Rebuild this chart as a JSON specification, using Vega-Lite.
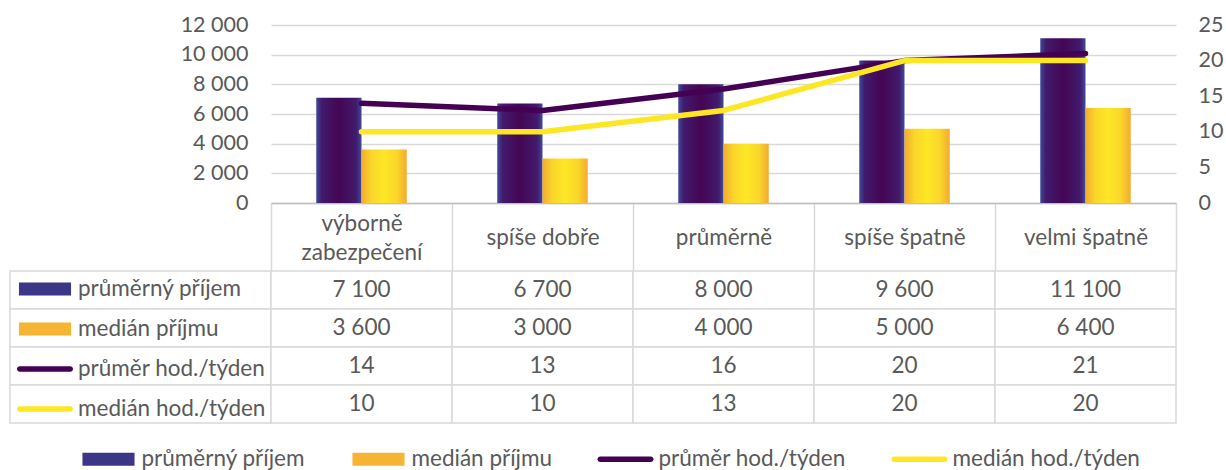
{
  "$schema": "https://vega.github.io/schema/vega-lite/v6.json",
  "background": "white",
  "padding": {"left": 9, "top": 14, "right": 2, "bottom": 2},
  "config": {
    "font": "Lato",
    "view": {"stroke": null},
    "locale": {"number": {"decimal": ",", "thousands": " ", "grouping": [3], "currency": ["", " Kč"]}},
    "axis": {"labelFont": "Lato", "labelFontSize": 21.5, "labelColor": "#595959", "title": null},
    "legend": {"labelFont": "Lato", "labelFontSize": 22.5, "labelColor": "#595959"}
  },
  "datasets": {
    "d": [
      {"kategorie": "výborně zabezpečení", "ukazatel": "průměrný příjem", "hodnota": 7100},
      {"kategorie": "spíše dobře", "ukazatel": "průměrný příjem", "hodnota": 6700},
      {"kategorie": "průměrně", "ukazatel": "průměrný příjem", "hodnota": 8000},
      {"kategorie": "spíše špatně", "ukazatel": "průměrný příjem", "hodnota": 9600},
      {"kategorie": "velmi špatně", "ukazatel": "průměrný příjem", "hodnota": 11100},
      {"kategorie": "výborně zabezpečení", "ukazatel": "medián příjmu", "hodnota": 3600},
      {"kategorie": "spíše dobře", "ukazatel": "medián příjmu", "hodnota": 3000},
      {"kategorie": "průměrně", "ukazatel": "medián příjmu", "hodnota": 4000},
      {"kategorie": "spíše špatně", "ukazatel": "medián příjmu", "hodnota": 5000},
      {"kategorie": "velmi špatně", "ukazatel": "medián příjmu", "hodnota": 6400},
      {"kategorie": "výborně zabezpečení", "ukazatel": "průměr hod./týden", "hodnota": 14},
      {"kategorie": "spíše dobře", "ukazatel": "průměr hod./týden", "hodnota": 13},
      {"kategorie": "průměrně", "ukazatel": "průměr hod./týden", "hodnota": 16},
      {"kategorie": "spíše špatně", "ukazatel": "průměr hod./týden", "hodnota": 20},
      {"kategorie": "velmi špatně", "ukazatel": "průměr hod./týden", "hodnota": 21},
      {"kategorie": "výborně zabezpečení", "ukazatel": "medián hod./týden", "hodnota": 10},
      {"kategorie": "spíše dobře", "ukazatel": "medián hod./týden", "hodnota": 10},
      {"kategorie": "průměrně", "ukazatel": "medián hod./týden", "hodnota": 13},
      {"kategorie": "spíše špatně", "ukazatel": "medián hod./týden", "hodnota": 20},
      {"kategorie": "velmi špatně", "ukazatel": "medián hod./týden", "hodnota": 20}
    ]
  },
  "data": {"name": "d"},
  "columns": 2,
  "spacing": {"row": 68, "column": 0},
  "bounds": "flush",
  "concat": [
    {
      "width": 261,
      "height": 178,
      "mark": {"type": "text"},
      "encoding": {"text": {"value": ""}}
    },
    {
      "width": 905,
      "height": 178,
      "encoding": {
        "x": {
          "field": "kategorie",
          "type": "nominal",
          "scale": {"domain": ["výborně zabezpečení", "spíše dobře", "průměrně", "spíše špatně", "velmi špatně"], "paddingInner": 0, "paddingOuter": 0},
          "axis": {
            "orient": "bottom",
            "domainColor": "#bfbfbf",
            "domainWidth": 1.5,
            "ticks": true,
            "tickBand": "extent",
            "tickSize": 68,
            "tickColor": "#d9d9d9",
            "tickWidth": 1.5,
            "labelAngle": 0,
            "labelBaseline": "middle",
            "labelPadding": {"condition": {"test": "datum.value === 'výborně zabezpečení'", "value": -47.5}, "value": -33.5},
            "labelLineHeight": 28.5,
            "labelOverlap": false,
            "labelFontSize": 22.5,
            "labelExpr": "datum.label === 'výborně zabezpečení' ? ['výborně', 'zabezpečení'] : datum.label"
          }
        }
      },
      "layer": [
        {
          "transform": [{"filter": "datum.ukazatel === 'průměrný příjem' || datum.ukazatel === 'medián příjmu'"}],
          "encoding": {
            "xOffset": {"field": "ukazatel", "type": "nominal", "scale": {"domain": ["průměrný příjem", "medián příjmu"], "paddingInner": 0, "paddingOuter": 1.105}},
            "y": {
              "field": "hodnota",
              "type": "quantitative",
              "scale": {"domain": [0, 12000]},
              "axis": {"values": [0, 2000, 4000, 6000, 8000, 10000, 12000], "tickCount": 7, "labelExpr": "format(datum.value, ',')", "labelOverlap": false, "grid": true, "gridColor": "#d9d9d9", "gridWidth": 1.3, "domain": false, "ticks": false, "labelPadding": 23}
            }
          },
          "layer": [
            {
              "transform": [{"filter": "datum.ukazatel === 'průměrný příjem'"}],
              "mark": {
                "type": "bar",
                "fill": {"gradient": "linear", "x1": 0, "x2": 1, "y1": 0, "y2": 0, "stops": [
                  {"offset": 0, "color": "#3f4a9a"},
                  {"offset": 0.12, "color": "#421a6c"},
                  {"offset": 0.5, "color": "#440654"},
                  {"offset": 0.88, "color": "#421a6c"},
                  {"offset": 1, "color": "#3f4a9a"}
                ]}
              }
            },
            {
              "transform": [{"filter": "datum.ukazatel === 'medián příjmu'"}],
              "mark": {
                "type": "bar",
                "fill": {"gradient": "linear", "x1": 0, "x2": 1, "y1": 0, "y2": 0, "stops": [
                  {"offset": 0, "color": "#f2ab30"},
                  {"offset": 0.22, "color": "#fad62a"},
                  {"offset": 0.5, "color": "#fde725"},
                  {"offset": 0.78, "color": "#fad62a"},
                  {"offset": 1, "color": "#f2ab30"}
                ]}
              }
            }
          ]
        },
        {
          "transform": [{"filter": "datum.ukazatel === 'průměr hod./týden' || datum.ukazatel === 'medián hod./týden'"}],
          "mark": {"type": "line", "strokeWidth": 5.5, "strokeCap": "round", "strokeJoin": "round"},
          "encoding": {
            "y": {
              "field": "hodnota",
              "type": "quantitative",
              "scale": {"domain": [0, 25]},
              "axis": {"orient": "right", "values": [0, 5, 10, 15, 20, 25], "labelOverlap": false, "grid": false, "domain": false, "ticks": false, "labelPadding": 22}
            },
            "color": {
              "field": "ukazatel",
              "type": "nominal",
              "scale": {"domain": ["průměrný příjem", "medián příjmu", "průměr hod./týden", "medián hod./týden"], "range": ["#3b3686", "#f5b431", "#440154", "#fde725"]},
              "legend": {
                "orient": "none",
                "legendX": 70.5,
                "legendY": 406,
                "direction": "horizontal",
                "title": null,
                "columnPadding": 45,
                "labelOffset": 5,
                "labelLimit": 300,
                "symbolSize": 3136,
                "symbolType": "M-0.93,-0.23H0.93V0.23H-0.93Z",
                "symbolStrokeWidth": 0,
                "encode": {
                  "symbols": {
                    "update": {
                      "shape": [
                        {"test": "datum.value === 'průměr hod./týden' || datum.value === 'medián hod./týden'", "value": "M-0.9,-0.1H0.9A0.1,0.1,0,0,1,0.9,0.1H-0.9A0.1,0.1,0,0,1,-0.9,-0.1Z"},
                        {"value": "M-0.93,-0.23H0.93V0.23H-0.93Z"}
                      ],
                      "fill": [
                        {"test": "datum.value === 'průměrný příjem'", "value": "#3b3686"},
                        {"test": "datum.value === 'medián příjmu'", "value": "#f5b431"},
                        {"test": "datum.value === 'průměr hod./týden'", "value": "#440154"},
                        {"value": "#fde725"}
                      ],
                      "strokeWidth": {"value": 0},
                      "opacity": {"value": 1}
                    }
                  }
                }
              }
            }
          }
        }
      ],
      "resolve": {"scale": {"y": "independent"}}
    },
    {
      "width": 261,
      "height": 152,
      "transform": [{"aggregate": [{"op": "count", "as": "n"}], "groupby": ["ukazatel"]}],
      "encoding": {
        "y": {"field": "ukazatel", "type": "nominal", "scale": {"domain": ["průměrný příjem", "medián příjmu", "průměr hod./týden", "medián hod./týden"], "paddingInner": 0, "paddingOuter": 0}, "axis": null}
      },
      "layer": [
        {"mark": {"type": "rect", "fill": "white", "stroke": "#d9d9d9", "strokeWidth": 1.5}},
        {
          "mark": {"type": "point", "filled": true, "opacity": 0},
          "encoding": {
            "fill": {
              "field": "ukazatel",
              "type": "nominal",
              "sort": ["průměrný příjem", "medián příjmu", "průměr hod./týden", "medián hod./týden"],
              "scale": {"range": ["#3b3686", "#f5b431", "#440154", "#fde725"]},
              "legend": {
                "orient": "none",
                "legendX": 7,
                "legendY": 236,
                "direction": "vertical",
                "title": null,
                "rowPadding": -1,
                "labelOffset": 5,
                "labelLimit": 300,
                "symbolSize": 3136,
                "symbolType": "M-0.93,-0.23H0.93V0.23H-0.93Z",
                "symbolOpacity": 1,
                "symbolStrokeWidth": 0,
                "encode": {
                  "symbols": {
                    "update": {
                      "shape": [
                        {"test": "datum.value === 'průměr hod./týden' || datum.value === 'medián hod./týden'", "value": "M-0.9,-0.1H0.9A0.1,0.1,0,0,1,0.9,0.1H-0.9A0.1,0.1,0,0,1,-0.9,-0.1Z"},
                        {"value": "M-0.93,-0.23H0.93V0.23H-0.93Z"}
                      ],
                      "strokeWidth": {"value": 0},
                      "opacity": {"value": 1}
                    }
                  }
                }
              }
            }
          }
        }
      ]
    },
    {
      "width": 905,
      "height": 152,
      "encoding": {
        "x": {"field": "kategorie", "type": "nominal", "scale": {"domain": ["výborně zabezpečení", "spíše dobře", "průměrně", "spíše špatně", "velmi špatně"], "paddingInner": 0, "paddingOuter": 0}, "axis": null},
        "y": {"field": "ukazatel", "type": "nominal", "scale": {"domain": ["průměrný příjem", "medián příjmu", "průměr hod./týden", "medián hod./týden"], "paddingInner": 0, "paddingOuter": 0}, "axis": null}
      },
      "layer": [
        {"mark": {"type": "rect", "fill": "white", "stroke": "#d9d9d9", "strokeWidth": 1.5}},
        {
          "mark": {"type": "text", "fontSize": 22.5, "color": "#595959", "font": "Lato"},
          "encoding": {"text": {"field": "hodnota", "type": "quantitative", "format": ","}}
        }
      ]
    }
  ]
}
